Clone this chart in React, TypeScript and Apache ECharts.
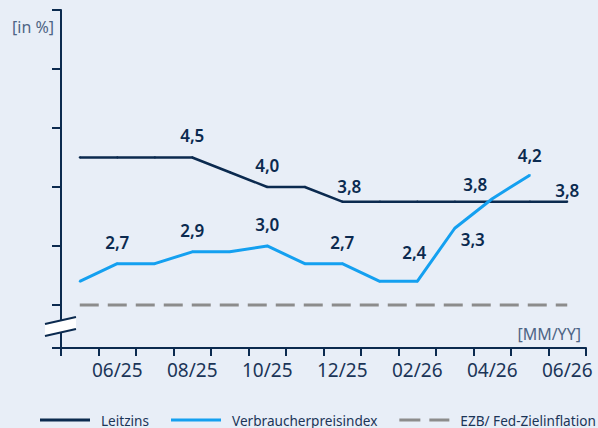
import React, { useEffect, useRef } from "react";
import * as echarts from "echarts";

const months = ["05/25","06/25","07/25","08/25","09/25","10/25","11/25","12/25","01/26","02/26","03/26","04/26","05/26","06/26"];
const leitzins = [4.5, 4.5, 4.5, 4.5, 4.25, 4.0, 4.0, 3.75, 3.75, 3.75, 3.75, 3.75, 3.75, 3.75];
const vpi = [2.4, 2.7, 2.7, 2.9, 2.9, 3.0, 2.7, 2.7, 2.4, 2.4, 3.3, 3.8, 4.2];
const ziel = [2.0, 2.0, 2.0, 2.0, 2.0, 2.0, 2.0, 2.0, 2.0, 2.0, 2.0, 2.0, 2.0, 2.0];

const leitzinsLabelIdx = [3, 5, 7, 13];
const vpiLabelIdx = [1, 3, 5, 7, 9, 10, 11, 12];

const NAVY = "#0b2a4f";
const BLUE = "#14a0f0";
const GREY = "#8c8c8c";
const TEXT = "#1b3557";
const BG = "#e8eef7";

const fmt = (v: number) => v.toFixed(1).replace(".", ",");

const labelOffsets: Record<string, number[]> = {
  "L7": [7, 6],
  "L13": [0, 10],
  "V9": [-3, -7],
  "V10": [18, 33],
  "V11": [-17, 7],
  "V12": [0, 2],
};

function buildData(values: number[], labelIdx: number[], key: string) {
  return values.map((v, i) => {
    if (!labelIdx.includes(i)) return { value: v, label: { show: false } };
    const off = labelOffsets[key + i] || [0, 0];
    return {
      value: v,
      label: {
        show: true,
        position: "top",
        distance: 12,
        offset: off,
        formatter: () => fmt(v),
        fontSize: 17,
        fontWeight: 600,
        color: NAVY,
        fontFamily: "Noto Sans",
      },
    };
  });
}

export default function App() {
  const ref = useRef<HTMLDivElement>(null);
  useEffect(() => {
    document.body.style.margin = "0";
    document.body.style.background = BG;
    const chart = echarts.init(ref.current!, null, { renderer: "svg" });
    chart.setOption({
      animation: false,
      backgroundColor: BG,
      textStyle: { fontFamily: "Noto Sans" },
      grid: { left: 61, right: 12, top: 10, bottom: 80, containLabel: false },
      legend: {
        left: 35,
        top: 408,
        width: 900,
        itemWidth: 50,
        itemHeight: 3,
        itemGap: 22,
        textStyle: { fontSize: 13.6, color: TEXT, fontFamily: "Noto Sans", padding: [0, 0, 0, 6] },
        data: [
          { name: "Leitzins", icon: "path://M0,0h50v3h-50z" },
          { name: "Verbraucherpreisindex", icon: "path://M0,0h50v3h-50z" },
          { name: "EZB/ Fed-Zielinflation", icon: "path://M0,0h21v3h-21zM30,0h20v3h-20z" },
        ],
      },
      xAxis: {
        type: "category",
        data: months,
        boundaryGap: true,
        name: "[MM/YY]",
        nameLocation: "end",
        nameGap: -5,
        nameTextStyle: {
          align: "right",
          verticalAlign: "bottom",
          padding: [0, 0, 6, 0],
          fontSize: 16,
          color: "#4e6585",
          fontFamily: "Noto Sans",
        },
        axisLine: { lineStyle: { color: NAVY, width: 2 } },
        axisTick: { show: true, interval: 0, length: 8, lineStyle: { color: NAVY, width: 2 } },
        axisLabel: {
          interval: (index: number) => index % 2 === 1,
          fontSize: 19,
          color: TEXT,
          margin: 12,
          fontFamily: "Noto Sans",
        },
        splitLine: { show: false },
      },
      yAxis: {
        type: "value",
        min: 1.27,
        max: 7,
        name: "[in %]",
        nameLocation: "end",
        nameGap: -17,
        nameTextStyle: {
          align: "right",
          verticalAlign: "middle",
          padding: [0, 7, 0, 0],
          fontSize: 16,
          color: "#4e6585",
          fontFamily: "Noto Sans",
        },
        axisLine: { show: true, lineStyle: { color: NAVY, width: 2 } },
        axisTick: { show: true, length: 9, lineStyle: { color: NAVY, width: 2 } },
        axisLabel: { show: false },
        splitLine: { show: false },
      },
      series: [
        {
          name: "Leitzins",
          type: "line",
          data: buildData(leitzins, leitzinsLabelIdx, "L"),
          symbol: "circle",
          symbolSize: 2,
          showSymbol: true,
          color: NAVY,
          itemStyle: { color: NAVY },
          lineStyle: { color: NAVY, width: 2.5 },
          z: 3,
        },
        {
          name: "Verbraucherpreisindex",
          type: "line",
          data: buildData(vpi, vpiLabelIdx, "V"),
          symbol: "circle",
          symbolSize: 2,
          showSymbol: true,
          color: BLUE,
          itemStyle: { color: BLUE },
          lineStyle: { color: BLUE, width: 3 },
          z: 4,
        },
        {
          name: "EZB/ Fed-Zielinflation",
          type: "line",
          data: ziel,
          symbol: "none",
          color: GREY,
          itemStyle: { color: GREY },
          lineStyle: { color: GREY, width: 3, type: [19, 9] },
          z: 2,
        },
      ],
      graphic: [
        {
          type: "polygon",
          z: 100,
          shape: { points: [[45, 324], [76, 317], [76, 329], [45, 336]] },
          style: { fill: "#ffffff" },
        },
        {
          type: "line",
          z: 101,
          shape: { x1: 45, y1: 324, x2: 76, y2: 317 },
          style: { stroke: NAVY, lineWidth: 2 },
        },
        {
          type: "line",
          z: 101,
          shape: { x1: 45, y1: 336, x2: 76, y2: 329 },
          style: { stroke: NAVY, lineWidth: 2 },
        },
      ],
    });
    return () => chart.dispose();
  }, []);
  return <div ref={ref} style={{ width: 598, height: 428 }} />;
}
